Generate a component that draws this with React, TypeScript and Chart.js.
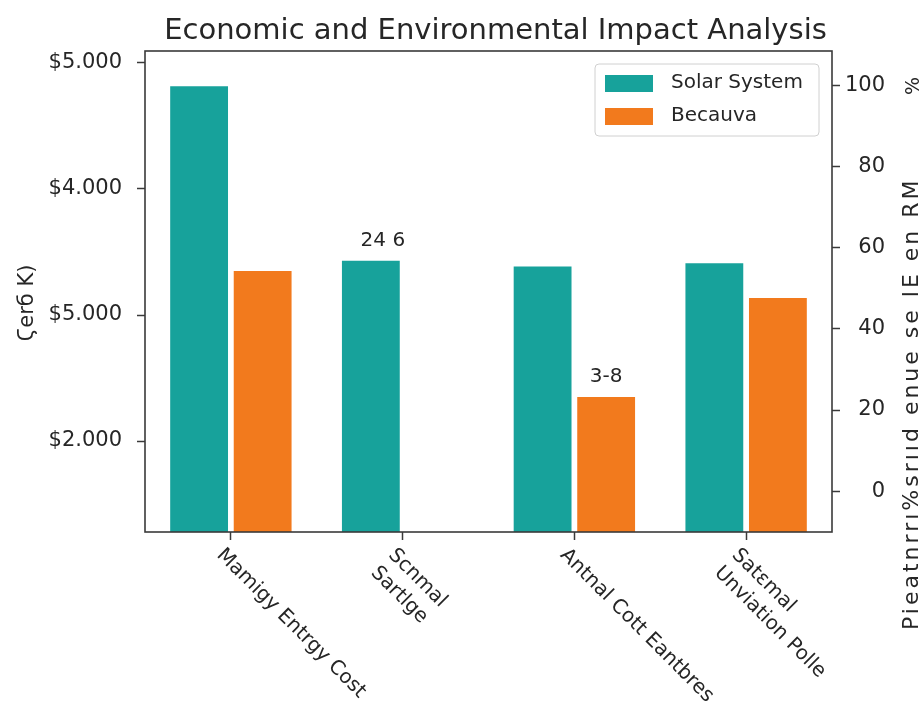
import React, { useEffect, useRef } from "react";
import { Chart, registerables } from "chart.js";

Chart.register(...registerables);

const chartTitle = "Economic and Environmental Impact Analysis";
const categories: string[][] = [
  ["Mamigy Entrgy Cost"],
  ["Scnmal", "Sartlge"],
  ["Antnal Cott Eantbres"],
  ["Satɛmal", "Unviation Polle"],
];
const seriesNames = ["Solar System", "Becauva"];
const seriesColors = ["#17a29b", "#f27a1d"];
const solarValues: (number | null)[] = [4815, 3430, 3385, 3410];
const becauvaValues: (number | null)[] = [3350, null, 2350, 3135];
const solarLabels = ["", "24 6", "", ""];
const becauvaLabels = ["", "", "3-8", ""];
const leftTickValues = [2000, 3000, 4000, 5000];
const leftTickLabels = ["$2.000", "$5.000", "$4.000", "$5.000"];
const rightTickValues = [0, 20, 40, 60, 80, 100];
const rightTickLabels = ["0", "20", "40", "60", "80", "100"];
const leftAxisTitle = "Ϛerб K)";
const rightAxisTitle = "Pieatnrrı%srııd enue se lE en RM";
const rightAxisUnit = "%";

const FONT = "'DejaVu Sans', sans-serif";
const INK = "#262626";

const overlayPlugin = {
  id: "overlay",
  afterDatasetsDraw(chart: any) {
    const { ctx, chartArea: a } = chart;
    ctx.save();
    const labelSets = [solarLabels, becauvaLabels];
    ctx.font = `20px ${FONT}`;
    ctx.fillStyle = INK;
    ctx.textAlign = "center";
    ctx.textBaseline = "bottom";
    labelSets.forEach((labels, di) => {
      const meta = chart.getDatasetMeta(di);
      labels.forEach((t, i) => {
        if (!t) return;
        const el = meta.data[i];
        if (!el) return;
        ctx.fillText(t, el.x + (di === 0 ? 12 : 0), el.y - 10);
      });
    });
    ctx.strokeStyle = "#3a3a3a";
    ctx.lineWidth = 1.6;
    ctx.strokeRect(a.left, a.top, a.right - a.left, a.bottom - a.top);
    ctx.restore();
  },
  afterDraw(chart: any) {
    const { ctx, chartArea: a } = chart;
    const xScale = chart.scales.x;
    const rScale = chart.scales.y1;
    ctx.save();
    // title
    ctx.fillStyle = INK;
    ctx.font = `29px ${FONT}`;
    ctx.textAlign = "center";
    ctx.textBaseline = "middle";
    ctx.fillText(chartTitle, (a.left + a.right) / 2 + 7, 31);

    // right tick labels
    ctx.font = `21px ${FONT}`;
    ctx.textAlign = "right";
    ctx.textBaseline = "middle";
    rightTickValues.forEach((v, i) => {
      ctx.fillText(rightTickLabels[i], 885, rScale.getPixelForValue(v));
    });

    // x labels
    ctx.font = `20px ${FONT}`;
    ctx.textAlign = "left";
    ctx.textBaseline = "top";
    categories.forEach((lines, i) => {
      const x = xScale.getPixelForValue(i);
      ctx.save();
      ctx.translate(x - 4, a.bottom + 13);
      ctx.rotate(Math.PI / 4);
      lines.forEach((ln, j) => ctx.fillText(ln, 0, j * 25));
      ctx.restore();
    });

    // left axis title
    ctx.save();
    ctx.font = `21px ${FONT}`;
    ctx.translate(28, 303);
    ctx.rotate(-Math.PI / 2);
    ctx.textAlign = "center";
    ctx.textBaseline = "middle";
    ctx.fillText(leftAxisTitle, 0, 0);
    ctx.restore();

    // right axis title
    ctx.save();
    ctx.font = `22px ${FONT}`;
    try { (ctx as any).letterSpacing = "3px"; } catch (e) {}
    ctx.translate(912, 630);
    ctx.rotate(-Math.PI / 2);
    ctx.textAlign = "left";
    ctx.textBaseline = "middle";
    ctx.fillText(rightAxisTitle, 0, 0);
    ctx.restore();
    ctx.save();
    ctx.translate(914, 86);
    ctx.rotate(-Math.PI / 2);
    ctx.textAlign = "center";
    ctx.textBaseline = "middle";
    ctx.font = `19px ${FONT}`;
    ctx.fillText(rightAxisUnit, 0, 0);
    ctx.restore();

    // legend
    const lx = 595, ly = 64, lw = 224, lh = 72;
    ctx.fillStyle = "rgba(255,255,255,0.85)";
    ctx.strokeStyle = "#d0d0d0";
    ctx.lineWidth = 1;
    ctx.beginPath();
    (ctx as any).roundRect(lx, ly, lw, lh, 4);
    ctx.fill();
    ctx.stroke();
    ctx.font = `20px ${FONT}`;
    ctx.textAlign = "left";
    ctx.textBaseline = "middle";
    chart.data.datasets.forEach((ds: any, i: number) => {
      const cy = ly + 19 + i * 33;
      ctx.fillStyle = ds.backgroundColor;
      ctx.fillRect(lx + 10, cy - 8, 48, 17);
      ctx.fillStyle = INK;
      ctx.fillText(ds.label, lx + 76, cy);
    });
    ctx.restore();
  },
};

export default function App() {
  const ref = useRef<HTMLCanvasElement | null>(null);
  useEffect(() => {
    document.body.style.margin = "0";
    if (!ref.current) return;
    const tickGrid = {
      drawOnChartArea: false,
      drawTicks: true,
      tickLength: 8,
      tickColor: "#3a3a3a",
      tickWidth: 1.5,
    };
    const chart = new Chart(ref.current, {
      type: "bar",
      data: {
        labels: categories.map((c) => c.join(" ")),
        datasets: [
          {
            label: seriesNames[0],
            data: solarValues,
            backgroundColor: seriesColors[0],
            yAxisID: "y",
            categoryPercentage: 0.74,
            barPercentage: 0.91,
          },
          {
            label: seriesNames[1],
            data: becauvaValues,
            backgroundColor: seriesColors[1],
            yAxisID: "y",
            categoryPercentage: 0.74,
            barPercentage: 0.91,
          },
        ],
      },
      options: {
        responsive: false,
        animation: false,
        layout: { padding: { top: 51, left: 0, right: 0, bottom: 0 } },
        plugins: {
          legend: { display: false },
          title: { display: false },
          tooltip: { enabled: false },
        },
        scales: {
          x: {
            type: "category",
            offset: true,
            border: { display: false },
            grid: { ...tickGrid, offset: false },
            ticks: { display: false },
            afterFit: (s: any) => {
              s.height = 190;
            },
          },
          y: {
            type: "linear",
            position: "left",
            min: 1278,
            max: 5095,
            border: { display: false },
            grid: tickGrid,
            afterBuildTicks: (s: any) => {
              s.ticks = leftTickValues.map((v) => ({ value: v }));
            },
            ticks: {
              padding: 15,
              color: INK,
              font: { family: FONT, size: 21 },
              callback: (v: any) => leftTickLabels[leftTickValues.indexOf(Number(v))] ?? "",
            },
            afterFit: (s: any) => {
              s.width = 145;
            },
          },
          y1: {
            type: "linear",
            position: "right",
            min: -10.1,
            max: 108.6,
            border: { display: false },
            grid: tickGrid,
            afterBuildTicks: (s: any) => {
              s.ticks = rightTickValues.map((v) => ({ value: v }));
            },
            ticks: { display: false },
            afterFit: (s: any) => {
              s.width = 92;
            },
          },
        },
      },
      plugins: [overlayPlugin],
    } as any);
    return () => chart.destroy();
  }, []);
  return (
    <div style={{ width: 924, height: 722, background: "#fff" }}>
      <canvas ref={ref} width={924} height={722} />
    </div>
  );
}
